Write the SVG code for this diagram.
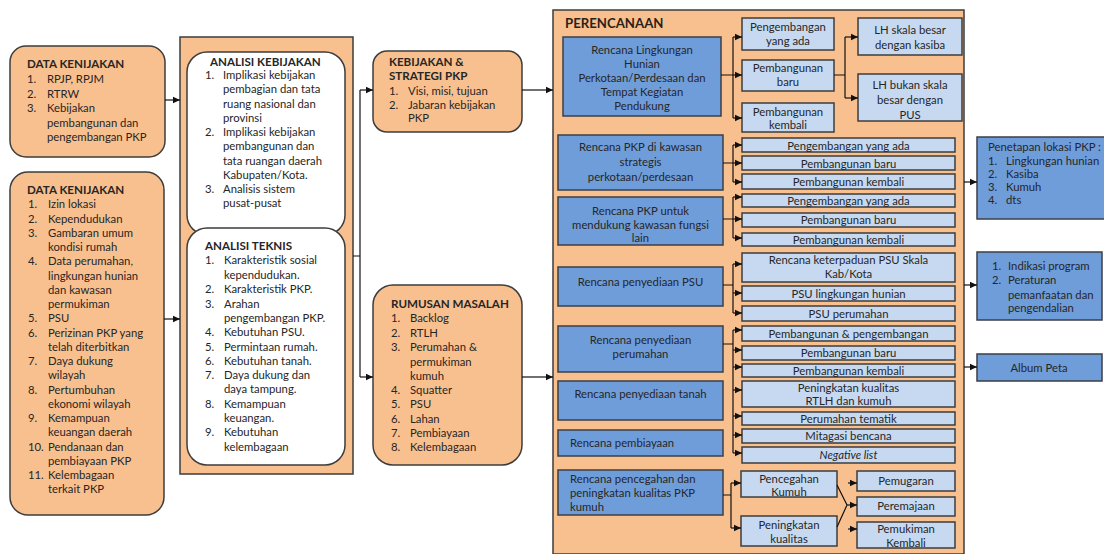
<svg xmlns="http://www.w3.org/2000/svg" width="1104" height="554" viewBox="0 0 1104 554">
<defs>
<marker id="ah" markerWidth="8" markerHeight="8" refX="7" refY="4" orient="auto" markerUnits="userSpaceOnUse"><path d="M0,0.8 L7,4 L0,7.2 Z" fill="#111"/></marker>
<style>
.or{fill:#F9C08F;stroke:#3d3d3d;stroke-width:1.5}
.wh{fill:#fff;stroke:#3d3d3d;stroke-width:1.5}
.bl{fill:#6F9DDA;stroke:#3a3f47;stroke-width:1.5}
.lb{fill:#C6D9F1;stroke:#3d3d3d;stroke-width:1.5}
.cn{fill:none;stroke:#111;stroke-width:1.2}
.ar{marker-end:url(#ah)}
text{font-family:Lato,"Liberation Sans",sans-serif;font-size:11.3px;fill:#262626}
.h{font-weight:bold;font-size:11.6px}
.c{text-anchor:middle}
.i{font-style:italic}
</style>
</defs>
<rect width="1104" height="554" fill="#fff"/>

<g id="data-kebijakan-1">
<rect class="or" x="10" y="46" width="155" height="111" rx="16"/>
<text class="h" x="27" y="68">DATA KENIJAKAN</text>
<text x="27" y="83">1.</text><text x="47" y="83">RPJP, RPJM</text>
<text x="27" y="97.5">2.</text><text x="47" y="97.5">RTRW</text>
<text x="27" y="112">3.</text><text x="47" y="112">Kebijakan</text>
<text x="47" y="126.5">pembangunan dan</text>
<text x="47" y="141">pengembangan PKP</text>
</g>

<g id="data-kebijakan-2">
<rect class="or" x="10" y="172" width="154" height="343" rx="18"/>
<text class="h" x="27" y="194">DATA KENIJAKAN</text>
<text x="28" y="208.25">1.</text><text x="48" y="208.25">Izin lokasi</text>
<text x="28" y="222.5">2.</text><text x="48" y="222.5">Kependudukan</text>
<text x="28" y="236.75">3.</text><text x="48" y="236.75">Gambaran umum</text>
<text x="48" y="251">kondisi rumah</text>
<text x="28" y="265.25">4.</text><text x="48" y="265.25">Data perumahan,</text>
<text x="48" y="279.5">lingkungan hunian</text>
<text x="48" y="293.75">dan kawasan</text>
<text x="48" y="308">permukiman</text>
<text x="28" y="322.25">5.</text><text x="48" y="322.25">PSU</text>
<text x="28" y="336.5">6.</text><text x="48" y="336.5">Perizinan PKP yang</text>
<text x="48" y="350.75">telah diterbitkan</text>
<text x="28" y="365">7.</text><text x="48" y="365">Daya dukung</text>
<text x="48" y="379.25">wilayah</text>
<text x="28" y="393.5">8.</text><text x="48" y="393.5">Pertumbuhan</text>
<text x="48" y="407.75">ekonomi wilayah</text>
<text x="28" y="422">9.</text><text x="48" y="422">Kemampuan</text>
<text x="48" y="436.25">keuangan daerah</text>
<text x="28" y="450.5">10.</text><text x="48" y="450.5">Pendanaan dan</text>
<text x="48" y="464.75">pembiayaan PKP</text>
<text x="28" y="479">11.</text><text x="48" y="479">Kelembagaan</text>
<text x="48" y="493.25">terkait PKP</text>
</g>

<g id="analisi">
<rect class="or" x="180" y="37" width="173" height="437"/>
</g>

<g id="analisi-kebijakan">
<rect class="wh" x="187" y="52" width="158" height="183" rx="20"/>
<text class="h" x="210" y="66">ANALISI KEBIJAKAN</text>
<text x="205" y="79">1.</text><text x="223" y="79">Implikasi kebijakan</text>
<text x="223" y="93">pembagian dan tata</text>
<text x="223" y="108">ruang nasional dan</text>
<text x="223" y="122">provinsi</text>
<text x="205" y="136">2.</text><text x="223" y="136">Implikasi kebijakan</text>
<text x="223" y="150">pembangunan dan</text>
<text x="223" y="165">tata ruangan daerah</text>
<text x="223" y="179">Kabupaten/Kota.</text>
<text x="205" y="193">3.</text><text x="223" y="193">Analisis sistem</text>
<text x="223" y="207">pusat-pusat</text>
</g>

<g id="analisi-teknis">
<rect class="wh" x="187" y="228" width="158" height="237" rx="20"/>
<text class="h" x="205" y="250">ANALISI TEKNIS</text>
<text x="205" y="264">1.</text><text x="224" y="264">Karakteristik sosial</text>
<text x="224" y="279">kependudukan.</text>
<text x="205" y="293">2.</text><text x="224" y="293">Karakteristik PKP.</text>
<text x="205" y="308">3.</text><text x="224" y="308">Arahan</text>
<text x="224" y="322">pengembangan PKP.</text>
<text x="205" y="336">4.</text><text x="224" y="336">Kebutuhan PSU.</text>
<text x="205" y="351">5.</text><text x="224" y="351">Permintaan rumah.</text>
<text x="205" y="365">6.</text><text x="224" y="365">Kebutuhan tanah.</text>
<text x="205" y="379">7.</text><text x="224" y="379">Daya dukung dan</text>
<text x="224" y="393">daya tampung.</text>
<text x="205" y="408">8.</text><text x="224" y="408">Kemampuan</text>
<text x="224" y="422">keuangan.</text>
<text x="205" y="436">9.</text><text x="224" y="436">Kebutuhan</text>
<text x="224" y="451">kelembagaan</text>
</g>

<g id="kebijakan-strategi">
<rect class="or" x="373" y="51" width="149" height="81" rx="14"/>
<text class="h" x="389" y="66">KEBIJAKAN &amp;</text>
<text class="h" x="389" y="80">STRATEGI PKP</text>
<text x="389" y="95">1.</text><text x="408" y="95">Visi, misi, tujuan</text>
<text x="389" y="108.5">2.</text><text x="408" y="108.5">Jabaran kebijakan</text>
<text x="408" y="122">PKP</text>
</g>

<g id="rumusan-masalah">
<rect class="or" x="373" y="285" width="149" height="180" rx="20"/>
<text class="h" x="391" y="308">RUMUSAN MASALAH</text>
<text x="391" y="322">1.</text><text x="410" y="322">Backlog</text>
<text x="391" y="337">2.</text><text x="410" y="337">RTLH</text>
<text x="391" y="351">3.</text><text x="410" y="351">Perumahan &amp;</text>
<text x="410" y="366">permukiman</text>
<text x="410" y="380">kumuh</text>
<text x="391" y="394">4.</text><text x="410" y="394">Squatter</text>
<text x="391" y="408">5.</text><text x="410" y="408">PSU</text>
<text x="391" y="423">6.</text><text x="410" y="423">Lahan</text>
<text x="391" y="437">7.</text><text x="410" y="437">Pembiayaan</text>
<text x="391" y="451">8.</text><text x="410" y="451">Kelembagaan</text>
</g>

<g id="perencanaan">
<rect class="or" x="553" y="10" width="411" height="544"/>
<text class="h" x="565" y="28" style="font-size:13.2px;fill:#2b2217">PERENCANAAN</text>
</g>

<g id="rencana-lingkungan">
<rect class="bl" x="563" y="37" width="158" height="79"/>
<text class="c" x="642" y="54">Rencana Lingkungan</text>
<text class="c" x="642" y="68">Hunian</text>
<text class="c" x="642" y="82">Perkotaan/Perdesaan dan</text>
<text class="c" x="642" y="96">Tempat Kegiatan</text>
<text class="c" x="642" y="110">Pendukung</text>
</g>
<g id="rl-pengembangan"><rect class="lb" x="742" y="18" width="92" height="32"/>
<text class="c" x="788" y="31">Pengembangan</text><text class="c" x="788" y="45">yang ada</text></g>
<g id="rl-baru"><rect class="lb" x="742" y="60" width="92" height="31"/>
<text class="c" x="788" y="72">Pembangunan</text><text class="c" x="788" y="86">baru</text></g>
<g id="rl-kembali"><rect class="lb" x="742" y="103" width="92" height="29"/>
<text class="c" x="788" y="116">Pembangunan</text><text class="c" x="788" y="129">kembali</text></g>
<g id="lh-besar"><rect class="lb" x="858" y="18" width="104" height="37"/>
<text class="c" x="910" y="34">LH skala besar</text><text class="c" x="910" y="49">dengan kasiba</text></g>
<g id="lh-bukan"><rect class="lb" x="858" y="74" width="104" height="47"/>
<text class="c" x="910" y="89">LH bukan skala</text><text class="c" x="910" y="104">besar dengan</text><text class="c" x="910" y="119">PUS</text></g>

<g id="rencana-strategis">
<rect class="bl" x="558" y="135" width="165" height="55"/>
<text class="c" x="640.5" y="151">Rencana PKP di kawasan</text>
<text class="c" x="640.5" y="166">strategis</text>
<text class="c" x="640.5" y="181">perkotaan/perdesaan</text>
</g>
<g id="rs-1"><rect class="lb" x="742" y="138" width="213" height="14"/><text class="c" x="848.5" y="149.5">Pengembangan yang ada</text></g>
<g id="rs-2"><rect class="lb" x="742" y="156" width="213" height="14"/><text class="c" x="848.5" y="167.5">Pembangunan baru</text></g>
<g id="rs-3"><rect class="lb" x="742" y="174" width="213" height="15"/><text class="c" x="848.5" y="186">Pembangunan kembali</text></g>

<g id="rencana-fungsi-lain">
<rect class="bl" x="558" y="197" width="165" height="48"/>
<text class="c" x="640.5" y="215">Rencana PKP untuk</text>
<text class="c" x="640.5" y="229">mendukung kawasan fungsi</text>
<text class="c" x="640.5" y="242">lain</text>
</g>
<g id="rf-1"><rect class="lb" x="742" y="194" width="213" height="13"/><text class="c" x="848.5" y="205">Pengembangan yang ada</text></g>
<g id="rf-2"><rect class="lb" x="742" y="213" width="213" height="14"/><text class="c" x="848.5" y="224">Pembangunan baru</text></g>
<g id="rf-3"><rect class="lb" x="742" y="233" width="213" height="13"/><text class="c" x="848.5" y="244">Pembangunan kembali</text></g>

<g id="rencana-psu">
<rect class="bl" x="558" y="267" width="165" height="39"/>
<text class="c" x="640.5" y="286">Rencana penyediaan PSU</text>
</g>
<g id="psu-1"><rect class="lb" x="742" y="253" width="213" height="29"/><text class="c" x="848.5" y="264">Rencana keterpaduan PSU Skala</text><text class="c" x="848.5" y="278">Kab/Kota</text></g>
<g id="psu-2"><rect class="lb" x="742" y="286" width="213" height="15"/><text class="c" x="848.5" y="297.5">PSU lingkungan hunian</text></g>
<g id="psu-3"><rect class="lb" x="742" y="306" width="213" height="15"/><text class="c" x="848.5" y="317.5">PSU perumahan</text></g>

<g id="rencana-perumahan">
<rect class="bl" x="558" y="326" width="165" height="46"/>
<text class="c" x="640.5" y="344">Rencana penyediaan</text>
<text class="c" x="640.5" y="358">perumahan</text>
</g>
<g id="rencana-tanah">
<rect class="bl" x="558" y="381" width="165" height="39"/>
<text class="c" x="640.5" y="398">Rencana penyediaan tanah</text>
</g>
<g id="rencana-pembiayaan">
<rect class="bl" x="558" y="430" width="165" height="26"/>
<text x="570" y="447">Rencana pembiayaan</text>
</g>
<g id="pr-1"><rect class="lb" x="742" y="326" width="213" height="15"/><text class="c" x="848.5" y="337.5">Pembangunan &amp; pengembangan</text></g>
<g id="pr-2"><rect class="lb" x="742" y="346" width="213" height="14"/><text class="c" x="848.5" y="357">Pembangunan baru</text></g>
<g id="pr-3"><rect class="lb" x="742" y="364" width="213" height="13"/><text class="c" x="848.5" y="375">Pembangunan kembali</text></g>
<g id="pr-4"><rect class="lb" x="742" y="381" width="213" height="26"/><text class="c" x="848.5" y="392">Peningkatan kualitas</text><text class="c" x="848.5" y="405">RTLH dan kumuh</text></g>
<g id="pr-5"><rect class="lb" x="742" y="412" width="213" height="13"/><text class="c" x="848.5" y="423">Perumahan tematik</text></g>
<g id="pr-6"><rect class="lb" x="742" y="429" width="213" height="14"/><text class="c" x="848.5" y="440">Mitagasi bencana</text></g>
<g id="pr-7"><rect class="lb" x="742" y="447" width="213" height="16"/><text class="c i" x="848.5" y="459">Negative list</text></g>

<g id="rencana-kumuh">
<rect class="bl" x="558" y="470" width="165" height="45"/>
<text x="570" y="483">Rencana pencegahan dan</text>
<text x="570" y="497">peningkatan kualitas PKP</text>
<text x="570" y="511">kumuh</text>
</g>
<g id="pencegahan"><rect class="lb" x="741" y="471" width="96" height="26"/><text class="c" x="789" y="483">Pencegahan</text><text class="c" x="789" y="496">Kumuh</text></g>
<g id="peningkatan"><rect class="lb" x="741" y="516" width="96" height="30"/><text class="c" x="789" y="529">Peningkatan</text><text class="c" x="789" y="543">kualitas</text></g>
<g id="pemugaran"><rect class="lb" x="857" y="471" width="98" height="20"/><text class="c" x="906" y="485">Pemugaran</text></g>
<g id="peremajaan"><rect class="lb" x="857" y="497" width="98" height="19"/><text class="c" x="906" y="510">Peremajaan</text></g>
<g id="pemukiman-kembali"><rect class="lb" x="857" y="522" width="98" height="26"/><text class="c" x="906" y="533">Pemukiman</text><text class="c" x="906" y="547">Kembali</text></g>

<g id="penetapan-lokasi">
<rect class="bl" x="977" y="137" width="132" height="82"/>
<text x="988" y="151">Penetapan lokasi PKP :</text>
<text x="988" y="165">1.</text><text x="1006" y="165">Lingkungan hunian</text>
<text x="988" y="178">2.</text><text x="1006" y="178">Kasiba</text>
<text x="988" y="191">3.</text><text x="1006" y="191">Kumuh</text>
<text x="988" y="204">4.</text><text x="1006" y="204">dts</text>
</g>
<g id="indikasi-program">
<rect class="bl" x="977" y="252" width="125" height="68"/>
<text x="992" y="270">1.</text><text x="1008" y="270">Indikasi program</text>
<text x="992" y="284">2.</text><text x="1008" y="284">Peraturan</text>
<text x="1008" y="299">pemanfaatan dan</text>
<text x="1008" y="312">pengendalian</text>
</g>
<g id="album-peta">
<rect class="bl" x="977" y="354" width="125" height="27"/>
<text class="c" x="1039" y="372">Album Peta</text>
</g>

<g id="connectors">
<path class="cn ar" d="M165,100 H180"/>
<path class="cn ar" d="M164,319 H180"/>
<path class="cn" d="M353,256 H360 M360,90 V377"/>
<path class="cn ar" d="M360,90 H373"/>
<path class="cn ar" d="M360,377 H373"/>
<path class="cn ar" d="M522,90 H553"/>
<path class="cn ar" d="M522,377 H553"/>

<path class="cn" d="M721,75 H733 M733,37 V118"/>
<path class="cn ar" d="M733,37 H742"/>
<path class="cn ar" d="M733,75 H742"/>
<path class="cn ar" d="M733,118 H742"/>
<path class="cn" d="M834,75 H845 M845,37 V98"/>
<path class="cn ar" d="M845,37 H858"/>
<path class="cn ar" d="M845,98 H858"/>

<path class="cn" d="M723,163 H733 M733,145 V182"/>
<path class="cn ar" d="M733,145 H742"/>
<path class="cn ar" d="M733,163 H742"/>
<path class="cn ar" d="M733,182 H742"/>

<path class="cn" d="M723,219 H733 M733,197 V238"/>
<path class="cn ar" d="M733,197 H742"/>
<path class="cn ar" d="M733,219 H742"/>
<path class="cn ar" d="M733,238 H742"/>

<path class="cn" d="M723,285 H733 M733,264 V313"/>
<path class="cn ar" d="M733,264 H742"/>
<path class="cn ar" d="M733,293 H742"/>
<path class="cn ar" d="M733,313 H742"/>

<path class="cn" d="M723,344 H733 M733,330 V453"/>
<path class="cn ar" d="M733,330 H742"/>
<path class="cn ar" d="M733,350 H742"/>
<path class="cn ar" d="M733,367 H742"/>
<path class="cn ar" d="M733,390 H742"/>
<path class="cn ar" d="M733,416 H742"/>
<path class="cn ar" d="M733,435 H742"/>
<path class="cn ar" d="M733,453 H742"/>

<path class="cn" d="M723,495 H731 M731,483 V528"/>
<path class="cn ar" d="M731,483 H741"/>
<path class="cn ar" d="M731,528 H741"/>
<path class="cn" d="M837,485 L847,505 M837,527 L847,505"/>
<path class="cn ar" d="M847,505 H857"/>
<path class="cn ar" d="M848,483 H857"/>
<path class="cn ar" d="M848,529 H857"/>

<path class="cn ar" d="M964,182 H977"/>
<path class="cn ar" d="M964,285 H977"/>
<path class="cn ar" d="M964,367 H977"/>
</g>
</svg>
